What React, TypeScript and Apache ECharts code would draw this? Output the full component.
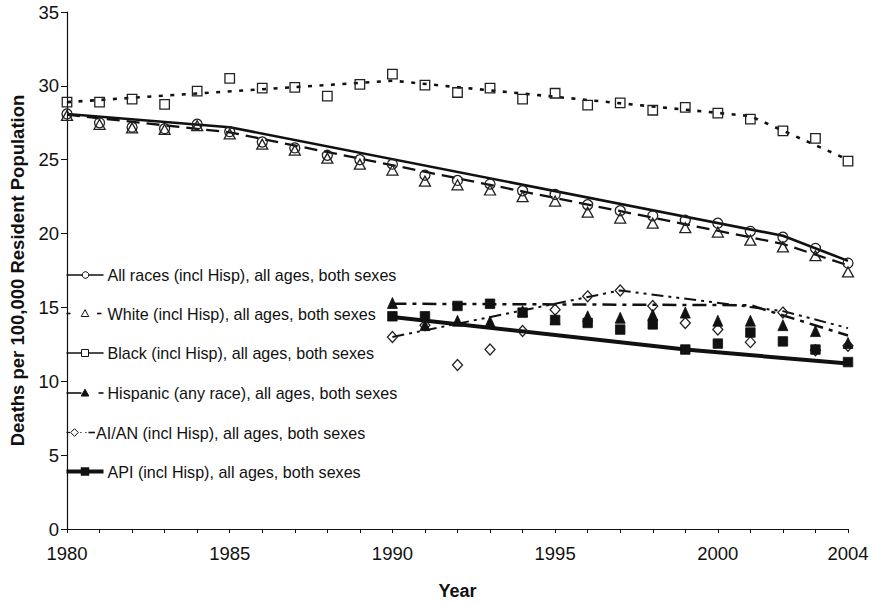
import React, { useEffect, useRef } from "react";
import * as echarts from "echarts";

// Calendar years of observation
const years = [
  1980, 1981, 1982, 1983, 1984, 1985, 1986, 1987, 1988, 1989, 1990, 1991,
  1992, 1993, 1994, 1995, 1996, 1997, 1998, 1999, 2000, 2001, 2002, 2003, 2004,
];
const laterYears = [
  1990, 1991, 1992, 1993, 1994, 1995, 1996, 1997, 1998, 1999, 2000, 2001,
  2002, 2003, 2004,
];

// Observed rates, deaths per 100,000
const allRaces = [
  28.1, 27.5, 27.2, 27.1, 27.4, 26.9, 26.2, 25.8, 25.3, 25.0, 24.7, 23.95,
  23.6, 23.35, 22.9, 22.65, 21.95, 21.55, 21.2, 20.9, 20.7, 20.15, 19.75,
  19.0, 18.0,
];
const white = [
  28.0, 27.4, 27.15, 27.05, 27.3, 26.75, 26.05, 25.65, 25.1, 24.7, 24.3,
  23.55, 23.3, 22.95, 22.5, 22.2, 21.45, 21.05, 20.7, 20.4, 20.1, 19.55,
  19.1, 18.5, 17.4,
];
const black = [
  28.9, 28.9, 29.1, 28.75, 29.65, 30.5, 29.85, 29.9, 29.3, 30.1, 30.8,
  30.05, 29.55, 29.85, 29.1, 29.5, 28.7, 28.85, 28.35, 28.55, 28.15, 27.75,
  26.95, 26.45, 24.9,
];
const hispanic = [
  15.3, 13.8, 14.1, 14.05, 14.75, 14.2, 14.4, 14.3, 14.5, 14.65, 14.1, 14.1,
  13.8, 13.4, 12.6,
];
const aian = [
  13.0, 13.8, 11.1, 12.15, 13.4, 14.85, 15.75, 16.15, 15.1, 13.95, 13.5,
  12.65, 14.65, 12.1, 12.4,
];
const api = [
  14.4, 14.4, 15.1, 15.25, 14.65, 14.15, 13.95, 13.5, 13.85, 12.15, 12.55,
  13.3, 12.7, 12.15, 11.3,
];

// Fitted joinpoint trends: [year, rate] at each segment end
const allRacesTrend = [[1980, 28.1], [1985, 27.2], [2002, 19.85], [2004, 18.15]];
const whiteTrend = [[1980, 28.05], [1985, 26.85], [2002, 19.3], [2004, 17.85]];
const blackTrend = [[1980, 28.9], [1990, 30.35], [2001, 27.95], [2004, 25.0]];
const hispanicTrend = [[1990, 15.25], [2001, 15.15], [2004, 13.1]];
const aianTrend = [[1990, 13.0], [1997, 16.15], [2002, 14.75], [2004, 13.6]];
const apiTrend = [[1990, 14.35], [1999, 12.15], [2004, 11.2]];

// Legend labels
const legendLabels = [
  "All races (incl Hisp), all ages, both sexes",
  "White (incl Hisp), all ages, both sexes",
  "Black (incl Hisp), all ages, both sexes",
  "Hispanic (any race), all ages, both sexes",
  "AI/AN (incl Hisp), all ages, both sexes",
  "API (incl Hisp), all ages, both sexes",
];

const INK = "#111";
const FONT = "'Liberation Sans', Arial, sans-serif";

const pairs = (xs: number[], ys: number[]) => xs.map((x, i) => [x, ys[i]]);

function scatter(name: string, data: number[][], symbol: string, size: any, filled: boolean) {
  return {
    name,
    type: "scatter",
    data,
    symbol,
    symbolSize: size,
    itemStyle: filled
      ? { color: INK, borderColor: INK, borderWidth: 0.8, opacity: 1 }
      : { color: "transparent", borderColor: "#222", borderWidth: 1.3, opacity: 1 },
    z: 3,
  };
}

function trend(name: string, data: number[][], width: number, type: any) {
  return {
    name,
    type: "line",
    data,
    showSymbol: false,
    symbol: "none",
    lineStyle: { color: INK, width, type },
    z: 2,
  };
}

// Legend samples drawn as small graphics
function legendGraphics() {
  const els: any[] = [];
  const rowY = [275, 313.5, 353, 393, 432.5, 471.5];
  const seg = (x1: number, x2: number, y: number, w = 1.6) => ({
    type: "line",
    shape: { x1, y1: y, x2, y2: y },
    style: { stroke: INK, lineWidth: w },
  });
  const tri = (cx: number, cy: number, fill: string, s = 3.8) => ({
    type: "polygon",
    shape: { points: [[cx, cy - s], [cx + s, cy + s * 0.8], [cx - s, cy + s * 0.8]] },
    style: { fill, stroke: INK, lineWidth: 1 },
  });
  // 1: solid with circle
  els.push(seg(66.5, 103.5, rowY[0]));
  els.push({ type: "circle", shape: { cx: 85.5, cy: rowY[0], r: 3.3 }, style: { fill: "#fff", stroke: INK, lineWidth: 1 } });
  // 2: dashed with open triangle
  els.push(seg(66.5, 70.5, rowY[1]));
  els.push(tri(85, rowY[1], "#fff"));
  els.push(seg(97, 101.5, rowY[1]));
  // 3: solid with open square
  els.push(seg(66.5, 103.5, rowY[2]));
  els.push({ type: "rect", shape: { x: 81.5, y: rowY[2] - 3.5, width: 7, height: 7 }, style: { fill: "#fff", stroke: INK, lineWidth: 1 } });
  // 4: solid then dash with filled triangle
  els.push(seg(66.5, 81.5, rowY[3]));
  els.push(tri(85, rowY[3], INK));
  els.push(seg(98.5, 103.5, rowY[3]));
  // 5: short line, diamond, dots, dash
  els.push(seg(66.5, 70, rowY[4], 1.2));
  els.push({
    type: "polygon",
    shape: { points: [[74.5, rowY[4] - 3.8], [78.3, rowY[4]], [74.5, rowY[4] + 3.8], [70.7, rowY[4]]] },
    style: { fill: "#fff", stroke: INK, lineWidth: 1 },
  });
  els.push(seg(80.3, 81.5, rowY[4], 1.2));
  els.push(seg(85.3, 86.5, rowY[4], 1.2));
  els.push(seg(88.5, 95, rowY[4], 1.6));
  // 6: thick solid with filled square
  els.push(seg(66.5, 103.5, rowY[5], 4));
  els.push({ type: "rect", shape: { x: 81, y: rowY[5] - 4, width: 8, height: 8 }, style: { fill: INK, stroke: INK, lineWidth: 0.5 } });

  legendLabels.forEach((label, i) => {
    els.push({
      type: "text",
      x: i === 4 ? 96 : 107.5,
      y: rowY[i],
      style: {
        text: label,
        font: `16.1px ${FONT}`,
        fill: "#111",
        verticalAlign: "middle",
        align: "left",
      },
    });
  });
  return els;
}

export default function App() {
  const ref = useRef<HTMLDivElement>(null);

  useEffect(() => {
    if (!ref.current) return;
    const chart = echarts.init(ref.current, undefined, { renderer: "svg" });
    chart.setOption({
      animation: false,
      backgroundColor: "#fff",
      grid: { left: 66, top: 12, width: 782, height: 521, containLabel: false },
      xAxis: {
        type: "value",
        min: 1980,
        max: 2004,
        interval: 1,
        name: "Year",
        nameLocation: "middle",
        nameGap: 53,
        nameTextStyle: { fontFamily: FONT, fontWeight: "bold", fontSize: 18, color: "#111" },
        axisLine: { show: true, onZero: false, lineStyle: { color: INK, width: 1.2 } },
        axisTick: { show: true, inside: false, length: 4, lineStyle: { color: INK, width: 1 } },
        axisLabel: {
          margin: 15,
          fontFamily: FONT,
          fontSize: 18.5,
          color: "#111",
          formatter: (v: number) => (v % 5 === 0 || v === 2004 ? String(v) : ""),
        },
        splitLine: { show: false },
      },
      yAxis: {
        type: "value",
        min: 0,
        max: 35,
        interval: 5,
        name: "Deaths per 100,000 Resident Population",
        nameLocation: "middle",
        nameRotate: 90,
        nameGap: 40,
        nameTextStyle: { fontFamily: FONT, fontWeight: "bold", fontSize: 18.5, color: "#111" },
        axisLine: { show: true, lineStyle: { color: INK, width: 1.2 } },
        axisTick: { show: true, inside: false, length: 6, lineStyle: { color: INK, width: 1 } },
        axisLabel: { margin: 8, fontFamily: FONT, fontSize: 18.5, color: "#111" },
        splitLine: { show: false },
      },
      series: [
        trend("Black trend", blackTrend, 2.6, [4, 7.5]),
        trend("All races trend", allRacesTrend, 2.6, "solid"),
        trend("White trend", whiteTrend, 2.3, [13, 7]),
        trend("AI/AN trend", aianTrend, 2, [12, 5, 3, 5, 3, 5]),
        trend("Hispanic trend", hispanicTrend, 2.5, [14, 6, 4, 6]),
        trend("API trend", apiTrend, 4, "solid"),
        scatter("Black", pairs(years, black), "rect", 9.5, false),
        scatter("All races", pairs(years, allRaces), "circle", 10, false),
        scatter("White", pairs(years, white), "triangle", [11, 10], false),
        scatter("AI/AN", pairs(laterYears, aian), "diamond", [10, 11], false),
        scatter("Hispanic", pairs(laterYears, hispanic), "triangle", [10, 11], true),
        scatter("API", pairs(laterYears, api), "rect", 9.5, true),
      ],
      graphic: legendGraphics(),
    });
    return () => chart.dispose();
  }, []);

  return (
    <div
      ref={ref}
      style={{ position: "absolute", left: 0, top: 0, width: 873, height: 605 }}
    />
  );
}
